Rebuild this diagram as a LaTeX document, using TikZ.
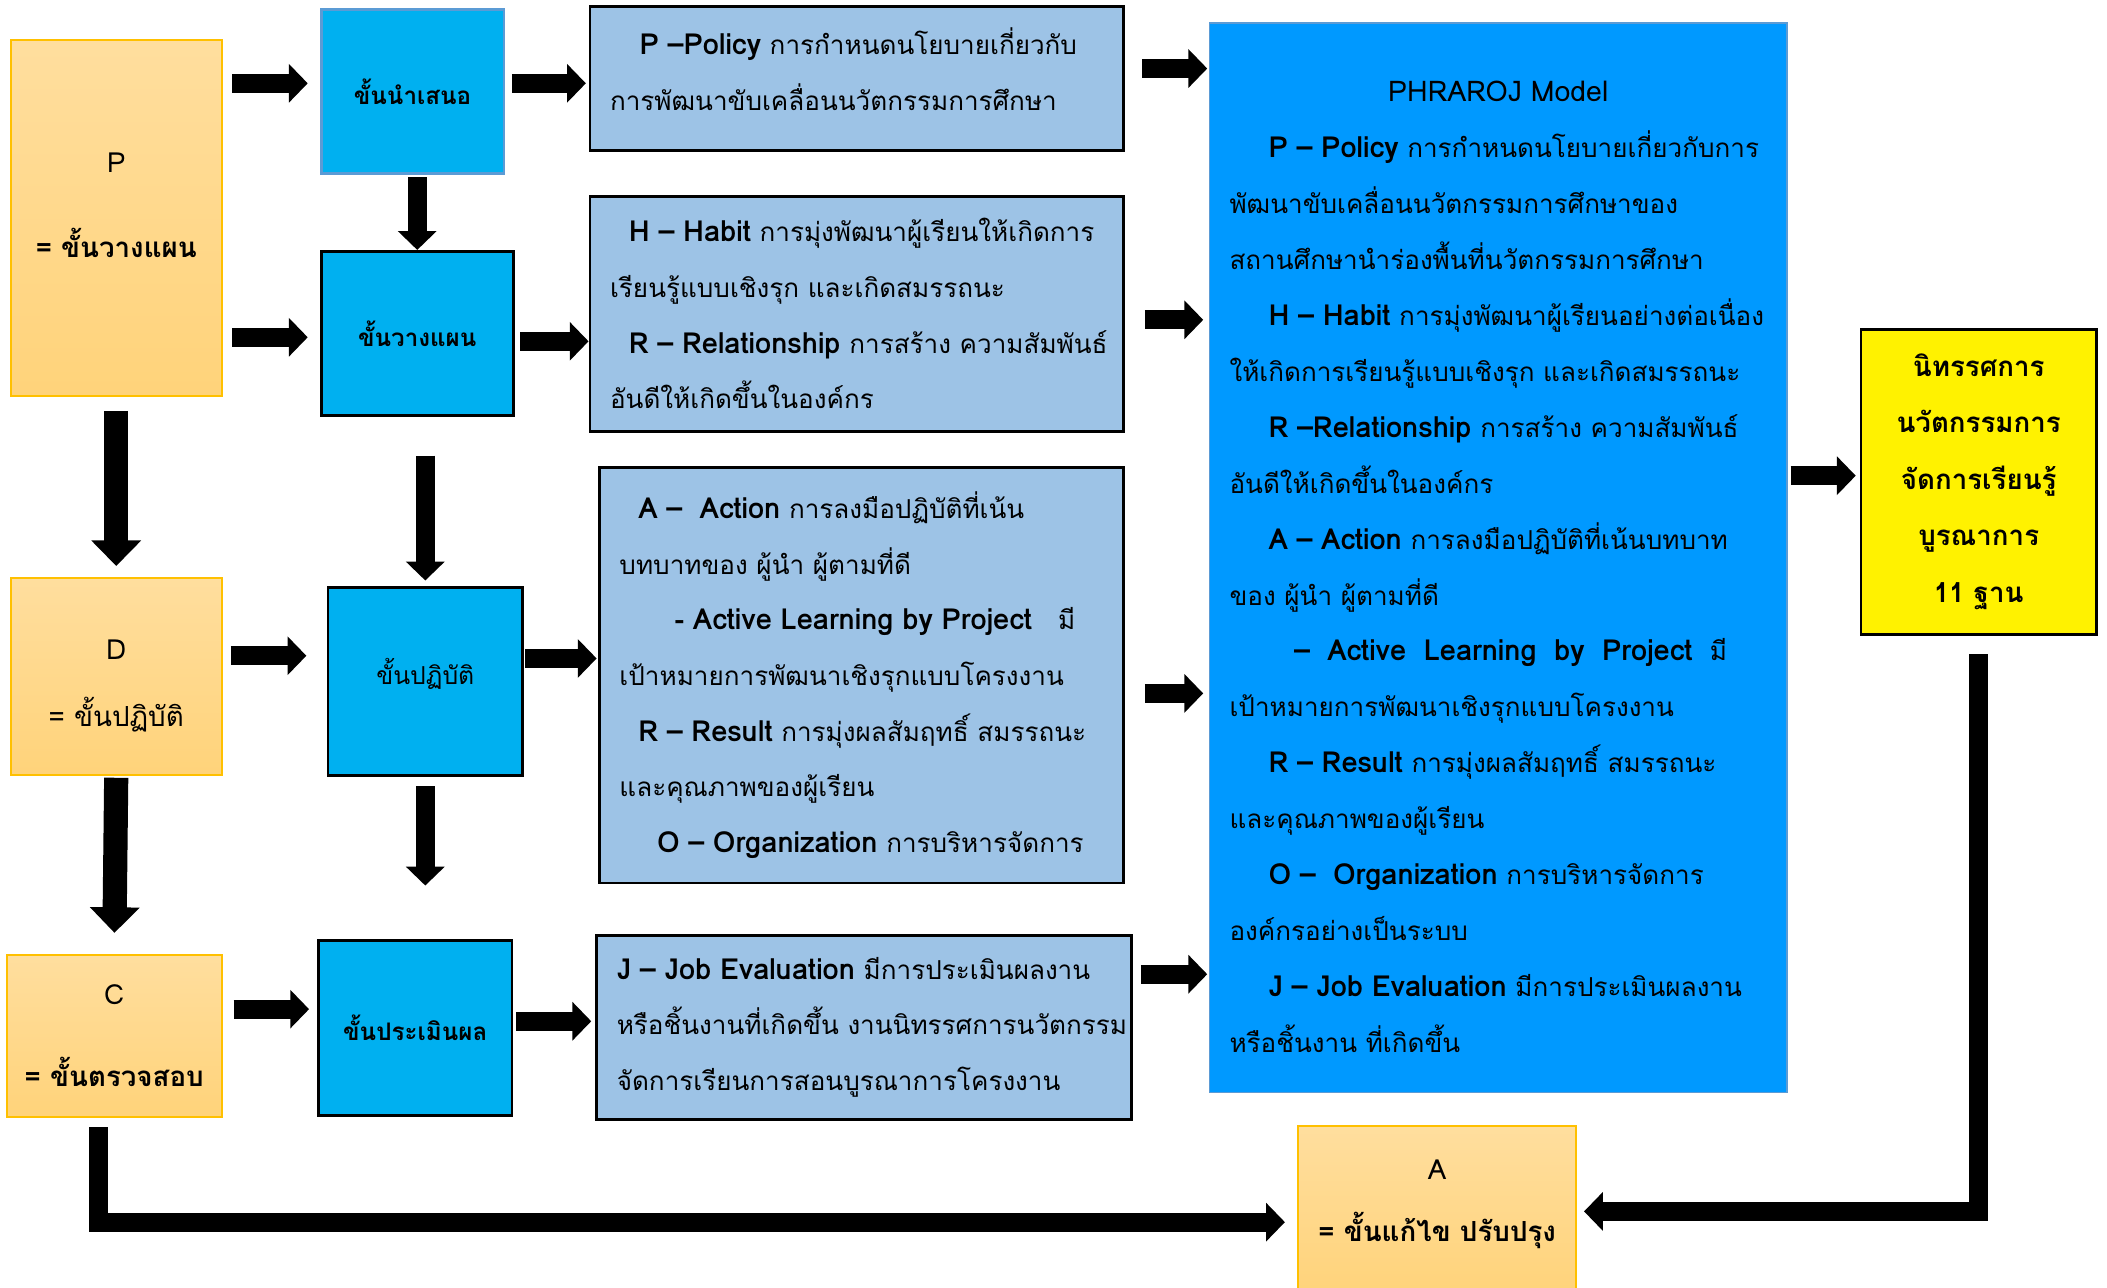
\documentclass[tikz,border=0pt]{standalone}
\usepackage{fontspec}
\setmainfont[Script=Thai]{Loma}
\usetikzlibrary{arrows.meta}
\definecolor{phasetop}{RGB}{255,222,158}
\definecolor{phasebot}{RGB}{255,211,122}
\definecolor{phaseline}{RGB}{255,192,0}
\definecolor{stepfill}{RGB}{0,176,240}
\definecolor{detailfill}{RGB}{157,195,230}
\definecolor{modelfill}{RGB}{0,153,255}
\definecolor{lightline}{RGB}{91,155,213}
\newcommand{\en}[1]{\mbox{\fontsize{10.8}{20.7}\selectfont\bfseries #1}}

\begin{document}
\begin{tikzpicture}[x=0.5pt, y=-0.5pt, font=\fontsize{9.7}{20.7}\selectfont, phase/.style = {shape=rectangle, draw=phaseline, line width=0.8pt, top color=phasetop, bottom color=phasebot, align=center, inner sep=0pt, font=\fontsize{10.3}{20.7}\selectfont}, stepbox/.style = {shape=rectangle, draw=black, line width=1pt, fill=stepfill, align=center, inner sep=0pt, font=\fontsize{9}{20.7}\selectfont\bfseries}, detail/.style = {shape=rectangle, draw=black, line width=1pt, fill=detailfill, align=left, inner xsep=7.5pt, inner ysep=0pt}, model/.style = {shape=rectangle, draw=lightline, line width=0.6pt, fill=modelfill, align=left, inner xsep=7.5pt, inner ysep=0pt, font=\fontsize{9.7}{20.8}\selectfont}, result/.style = {shape=rectangle, draw=black, line width=1pt, fill=yellow, align=center, inner sep=0pt, font=\fontsize{10.3}{21}\selectfont\bfseries}, arrow/.style = {line width=7pt, -{Triangle[length=7pt,width=14pt]}}, bigarrow/.style = {line width=9pt, -{Triangle[length=9.5pt,width=18pt]}}]
	\useasboundingbox (0,0) rectangle (1568,958.5);
	% PDCA
	\node[phase, minimum width=78.5pt, minimum height=132.5pt] (P) at (86.5,162.5) {P\\[10.8pt]\textbf{= ขั้นวางแผน}\\[-10.7pt]\mbox{}};
	\node[phase, minimum width=78.5pt, minimum height=73.5pt] (D) at (86.5,503.5) {\mbox{}\\[-6.2pt]D\\[4.3pt]= ขั้นปฏิบัติ};
	\node[phase, minimum width=80pt, minimum height=60pt] (C) at (85,771) {C\\[9.8pt]\textbf{= ขั้นตรวจสอบ}};
	\node[phase, minimum width=103.5pt, minimum height=63.5pt] (A) at (1069.5,901.5) {A\\[2.3pt]\textbf{= ขั้นแก้ไข ปรับปรุง}\\[-12.7pt]\mbox{}};
	% steps
	\node[stepbox, draw=lightline, minimum width=68pt, minimum height=61pt] (N1) at (307,68) {ขั้นนำเสนอ};
	\node[stepbox, minimum width=71.5pt, minimum height=61pt] (N2) at (310.5,248) {ขั้นวางแผน};
	\node[stepbox, minimum width=72.5pt, minimum height=70pt, font=\fontsize{9.2}{20.7}\selectfont] (N3) at (316.5,507) {ขั้นปฏิบัติ\\[-13.7pt]\mbox{}};
	\node[stepbox, minimum width=72pt, minimum height=65pt] (N4) at (309,765) {ขั้นประเมินผล};
	\coordinate (N3end) at (316.5,659);
	% details
	\node[detail, text width=183.5pt, minimum height=53.5pt] (policy) at (637.5,58.5) {\hspace*{11pt}\en{P~–Policy}~การกำหนดนโยบายเกี่ยวกับ\\การพัฒนาขับเคลื่อนนวัตกรรมการศึกษา\\[-13.7pt]\mbox{}};
	\node[detail, text width=183.5pt, minimum height=87.5pt] (habit) at (637.5,233.5) {\hspace*{7pt}\en{H~–~Habit}~การมุ่งพัฒนาผู้เรียนให้เกิดการ\\เรียนรู้แบบเชิงรุก~และเกิดสมรรถนะ\\\hspace*{7pt}\en{R~–~Relationship}~การสร้าง~ความสัมพันธ์\\อันดีให้เกิดขึ้นในองค์กร};
	\node[detail, text width=180pt, minimum height=154.5pt] (action) at (641,502.5) {\hspace*{7pt}\en{A~–~~Action}~การลงมือปฏิบัติที่เน้น\\บทบาทของ~ผู้นำ~ผู้ตามที่ดี\\\hspace*{20.5pt}\en{-~Active~Learning~by~Project}~~~มี\\เป้าหมายการพัฒนาเชิงรุกแบบโครงงาน\\\hspace*{7pt}\en{R~–~Result}~การมุ่งผลสัมฤทธิ์~สมรรถนะ\\และคุณภาพของผู้เรียน\\\hspace*{14pt}\en{O~–~Organization}~การบริหารจัดการ};
	\node[detail, text width=184pt, minimum height=68.5pt] (job) at (643,764.5) {\en{J~–~Job~Evaluation}~มีการประเมินผลงาน\\หรือชิ้นงานที่เกิดขึ้น~งานนิทรรศการนวัตกรรม\\จัดการเรียนการสอนบูรณาการโครงงาน};
	% model
	\node[model, text width=200pt, minimum height=398pt] (model) at (1115,415) {\mbox{}\\[-6.3pt]\makebox[200pt]{\fontsize{10.6}{20.8}\selectfont PHRAROJ Model}\\
		\hspace*{14.5pt}\en{P~–~Policy}~การกำหนดนโยบายเกี่ยวกับการ\\พัฒนาขับเคลื่อนนวัตกรรมการศึกษาของ\\สถานศึกษานำร่องพื้นที่นวัตกรรมการศึกษา\\
		\hspace*{14.5pt}\en{H~–~Habit}~การมุ่งพัฒนาผู้เรียนอย่างต่อเนื่อง\\ให้เกิดการเรียนรู้แบบเชิงรุก~และเกิดสมรรถนะ\\
		\hspace*{14.5pt}\en{R~–Relationship}~การสร้าง~ความสัมพันธ์\\อันดีให้เกิดขึ้นในองค์กร\\
		\hspace*{14.5pt}\en{A~–~Action}~การลงมือปฏิบัติที่เน้นบทบาท\\ของ~ผู้นำ~ผู้ตามที่ดี\\
		\hspace*{24pt}\en{–~~Active~~Learning~~by~~Project}~~มี\\เป้าหมายการพัฒนาเชิงรุกแบบโครงงาน\\
		\hspace*{14.5pt}\en{R~–~Result}~การมุ่งผลสัมฤทธิ์~สมรรถนะ\\และคุณภาพของผู้เรียน\\
		\hspace*{14.5pt}\en{O~–~~Organization}~การบริหารจัดการ\\องค์กรอย่างเป็นระบบ\\
		\hspace*{14.5pt}\en{J~–~Job~Evaluation}~มีการประเมินผลงาน\\หรือชิ้นงาน~ที่เกิดขึ้น};
	\node[result, minimum width=87.5pt, minimum height=113.5pt] (expo) at (1472.5,358.5) {นิทรรศการ\\นวัตกรรมการ\\จัดการเรียนรู้\\บูรณาการ\\11 ฐาน};
	% arrows
	\draw[arrow, shorten <=3.5pt, shorten >=4.5pt] ([yshift=3pt]N1.west -| P.east) -- ([yshift=3pt]N1.west);
	\draw[arrow, shorten <=3.5pt, shorten >=4.5pt] ([yshift=-1.5pt]N2.west -| P.east) -- ([yshift=-1.5pt]N2.west);
	\draw[arrow, shorten <=2.5pt, shorten >=1pt] ([yshift=3pt]N1.east) -- ([yshift=3pt]N1.east -| policy.west);
	\draw[arrow, shorten <=2pt] ([yshift=-3pt]N2.east) -- ([yshift=-3pt]N2.east -| habit.west);
	\draw[arrow, shorten <=1pt] (N2.north |- N1.south) -- (N2.north);
	\draw[arrow, shorten <=14.5pt, shorten >=2pt] (N3.north |- N2.south) -- (N3.north);
	\draw[arrow, shorten <=3.5pt] (N3.south) -- (N3end);
	\draw[bigarrow, shorten <=5pt, shorten >=4pt] (P.south) -- (D.north);
	\draw[bigarrow, shorten <=0.5pt, shorten >=8pt] (D.south) -- (C.north);
	\draw[arrow, shorten <=3pt, shorten >=7.5pt] ([yshift=7.75pt]D.east) -- ([yshift=7.75pt]D.east -| N3.west);
	\draw[arrow, shorten <=0.5pt, shorten >=0.5pt] ([yshift=8.5pt]N3.east) -- ([yshift=8.5pt]N3.east -| action.west);
	\draw[arrow, shorten <=4pt, shorten >=3pt] ([yshift=10pt]C.east) -- ([yshift=10pt]C.east -| N4.west);
	\draw[arrow, shorten <=1pt, shorten >=1.5pt] ([yshift=2.5pt]N4.east) -- ([yshift=2.5pt]N4.east -| job.west);
	\draw[arrow, shorten <=6.5pt, shorten >=0.5pt] ([yshift=3.75pt]policy.east) -- ([yshift=3.75pt]policy.east -| model.west);
	\draw[arrow, shorten <=7.5pt, shorten >=2pt] ([yshift=-2.25pt]habit.east) -- ([yshift=-2.25pt]habit.east -| model.west);
	\draw[arrow, shorten <=7.5pt, shorten >=2pt] ([yshift=-6.75pt]action.east) -- ([yshift=-6.75pt]action.east -| model.west);
	\draw[arrow, shorten <=3pt, shorten >=0.5pt] ([yshift=19.75pt]job.east) -- ([yshift=19.75pt]job.east -| model.west);
	\draw[arrow, shorten <=1pt, shorten >=1.5pt] ([yshift=2.25pt]model.east |- expo.west) -- ([yshift=2.25pt]expo.west);
	\draw[arrow, shorten >=2.5pt] ([yshift=-7pt]expo.south) |- (A.east);
	\draw[arrow, shorten >=4.5pt] ([xshift=-6pt,yshift=-3.5pt]C.south) |- ([yshift=-4pt]A.west);
\end{tikzpicture}
\end{document}
